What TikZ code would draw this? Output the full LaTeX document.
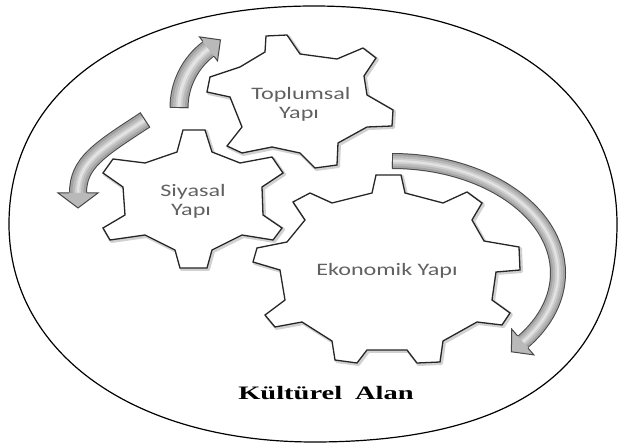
\documentclass[tikz,border=0pt]{standalone}
\usepackage{fontspec}
\newfontfamily\gfont{Carlito}
\newfontfamily\kfont{Liberation Serif}
\tikzset{
  gear/.style={draw=black!85, line width=1.3pt, fill=white, line join=miter},
  gshadow/.style={draw=black!18, line width=3pt, line join=round},
  glabel/.style={font=\gfont\fontsize{17.5}{20}\selectfont, text=black!62, xscale=1.38, anchor=base, inner sep=0pt},
  klabel/.style={font=\kfont\bfseries\fontsize{19}{22}\selectfont, text=black, xscale=1.5, anchor=base, inner sep=0pt},
  aedge/.style={draw=black!72, line width=1pt, line join=miter},
  ahead/.style={fill=gray!55},
  outer/.style={draw=black, line width=1.2pt, line join=round}
}
\begin{document}
\begin{tikzpicture}[x=1pt,y=-1pt]
\useasboundingbox (0,0) rectangle (619,446);
\fill[white] (0,0) rectangle (619,446);
% cultural field
\draw[outer] (314,6) .. controls (499,6) and (617,91) .. (617,224)
  .. controls (617,368) and (514,442) .. (314,442)
  .. controls (134,442) and (9,353) .. (9,224)
  .. controls (9,91) and (128,6) .. (314,6) -- cycle;
% arrow A (up, towards Toplumsal)
\def\pathA{(179,108) arc[start angle=180, end angle=233, radius=74]}
\foreach \w/\c in {19pt/black!72, 17pt/gray!72, 12pt/gray!55, 7pt/gray!38, 3pt/gray!22}{\draw[line width=\w, \c] \pathA;}
\draw[aedge] (170,108) -- (188,108);
\fill[ahead] (217.5,60.9) -- (220.5,39.9) -- (199.5,36.9) -- cycle;
\draw[aedge] (214.2,56.5) -- (217.5,60.9) -- (220.5,39.9) -- (199.5,36.9) -- (202.8,41.3);
% arrow B (down-left, towards Siyasal)
\def\pathB{(145,120) .. controls (99,150) and (78,163) .. (78,193)}
\foreach \w/\c in {18pt/black!72, 16pt/gray!72, 11pt/gray!55, 6pt/gray!38, 2.5pt/gray!22}{\draw[line width=\w, \c] \pathB;}
\draw[aedge] (149.9,127.5) -- (140.1,112.5);
\fill[ahead] (98,193) -- (78,208) -- (58,193) -- cycle;
\draw[aedge] (87,193) -- (98,193) -- (78,208) -- (58,193) -- (69,193);
% arrow C (around Ekonomik)
\def\pathC{(392,161) arc[start angle=-90, end angle=38, x radius=166, y radius=112]}
\foreach \w/\c in {16pt/black!72, 14pt/gray!72, 10pt/gray!55, 5.5pt/gray!38, 2pt/gray!22}{\draw[line width=\w, \c] \pathC;}
\draw[aedge] (392,153) -- (392,169);
\fill[ahead] (533.9,354.9) -- (511.4,351.8) -- (511.7,329.1) -- cycle;
\draw[aedge] (528.0,348.1) -- (533.9,354.9) -- (511.4,351.8) -- (511.7,329.1) -- (517.6,335.9);
% gears
\def\gearS{(183,130) -- (205,130) -- (212,152) -- (240,163) -- (272,157) -- (283,173) -- (262,187) -- (263,215) -- (282,228) -- (273,240) -- (242,235) -- (212,250) -- (207,268) -- (180,268) -- (175,250) -- (145,235) -- (110,240) -- (103,228) -- (125,215) -- (123,187) -- (103,173) -- (113,159) -- (145,163) -- (177,152) -- cycle}
\def\gearT{(266,36) -- (287,35) -- (300,54) -- (337,59) -- (363,48) -- (376,58) -- (364,76) -- (367,95) -- (393,110) -- (392,126) -- (367,127) -- (338,143) -- (337,165) -- (315,168) -- (300,153) -- (272,147) -- (242,153) -- (227,146) -- (242,127) -- (230,97) -- (207,92) -- (210,77) -- (240,67) -- (265,52) -- cycle}
\def\gearE{(376,175) -- (401,175) -- (405,193) -- (443,203) -- (467,192) -- (482,203) -- (472,220) -- (484,241) -- (519,247) -- (520,270) -- (496,272) -- (492,300) -- (510,313) -- (502,325) -- (477,322) -- (443,341) -- (440,362) -- (417,363) -- (407,350) -- (367,350) -- (357,363) -- (335,360) -- (332,341) -- (302,322) -- (275,327) -- (265,315) -- (285,300) -- (280,270) -- (253,262) -- (257,248) -- (287,242) -- (305,220) -- (293,202) -- (310,193) -- (332,203) -- (372,193) -- cycle}
\begin{scope}[shift={(1.5,1.5)}]
  \draw[gshadow] \gearS; \draw[gshadow] \gearT; \draw[gshadow] \gearE;
\end{scope}
\draw[gear] \gearT;
\draw[gear] \gearS;
\draw[gear] \gearE;
% labels
\node[glabel] (t1) at (301,100) {Toplumsal};
\node[glabel] (t2) at (299,119) {Yapı};
\node[glabel] (s1) at (193,197) {Siyasal};
\node[glabel] (s2) at (191,216) {Yapı};
\node[glabel] (e1) at (387,276) {Ekonomik Yapı};
\node[klabel] (k1) at (326,400) {Kültürel\hspace{0.45em}Alan};
\end{tikzpicture}
\end{document}
